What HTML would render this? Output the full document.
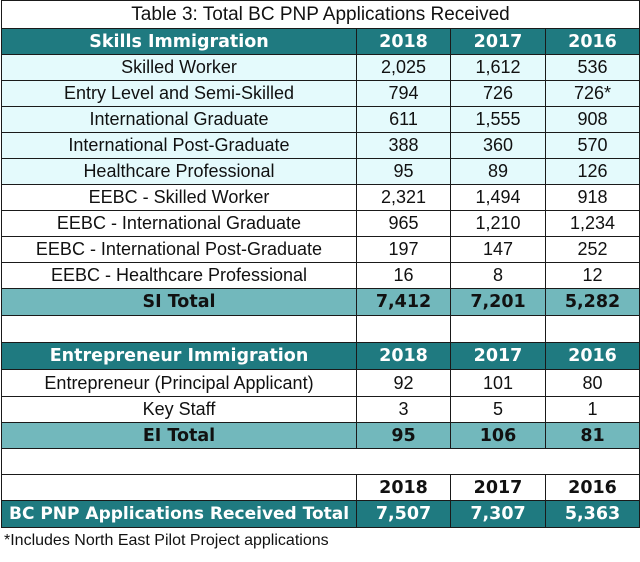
<!DOCTYPE html>
<html><head><meta charset="utf-8"><style>
body{margin:0;width:640px;height:562px;background:#fff;overflow:hidden;position:relative;font-family:"Liberation Sans",sans-serif;color:#111}
.c{position:absolute;box-sizing:border-box;border:1.5px solid #1a1a1a;display:flex;align-items:center;justify-content:center;font-size:18px;white-space:nowrap}
.b{font-family:"DejaVu Sans",sans-serif;font-weight:bold;font-size:17.5px}
.h{background:#1f7a80;color:#fff}
.t{background:#72b8bc;color:#111}
.l{background:#e4fafc}
.w{background:#fff}
#note{position:absolute;left:4px;top:532px;font-size:16px}
</style></head><body>
<div id="root"></div>
<div id="note">*Includes North East Pilot Project applications</div>
<script>
const tops=[0,28,54,80,106,132,158,184,210,236,262,288,315,342,369,396,422,448,474,500,527];
const cols=[1,356,450,545,639];
const rows=[
 ["title","",["Table 3: Total BC PNP Applications Received"]],
 ["skills-header","h b",["Skills Immigration","2018","2017","2016"]],
 ["skilled-worker","l",["Skilled Worker","2,025","1,612","536"]],
 ["entry-level","l",["Entry Level and Semi-Skilled","794","726","726*"]],
 ["international-graduate","l",["International Graduate","611","1,555","908"]],
 ["international-post-graduate","l",["International Post-Graduate","388","360","570"]],
 ["healthcare-professional","l",["Healthcare Professional","95","89","126"]],
 ["eebc-skilled-worker","w",["EEBC - Skilled Worker","2,321","1,494","918"]],
 ["eebc-international-graduate","w",["EEBC - International Graduate","965","1,210","1,234"]],
 ["eebc-international-post-graduate","w",["EEBC - International Post-Graduate","197","147","252"]],
 ["eebc-healthcare-professional","w",["EEBC - Healthcare Professional","16","8","12"]],
 ["si-total","t b",["SI Total","7,412","7,201","5,282"]],
 ["blank-row","w",["","","",""]],
 ["entrepreneur-header","h b",["Entrepreneur Immigration","2018","2017","2016"]],
 ["entrepreneur-principal","w",["Entrepreneur (Principal Applicant)","92","101","80"]],
 ["key-staff","w",["Key Staff","3","5","1"]],
 ["ei-total","t b",["EI Total","95","106","81"]],
 ["blank-row-2","w",[""]],
 ["year-row","w b",["","2018","2017","2016"]],
 ["grand-total","h b",["BC PNP Applications Received Total","7,507","7,307","5,363"]]
];
const root=document.getElementById('root');
rows.forEach((r,i)=>{
 const cells=r[2];
 cells.forEach((txt,j)=>{
  const d=document.createElement('div');
  d.className='c '+r[1];
  const x0=cols[j], x1=cells.length===1?cols[4]:cols[j+1];
  d.style.left=x0+'px';d.style.width=(x1-x0+1)+'px';
  d.style.top=tops[i]+'px';d.style.height=(tops[i+1]-tops[i]+1)+'px';
  if(i===0){d.style.fontSize='19px';}
  if(i===19&&j===0){d.style.justifyContent='flex-start';d.style.paddingLeft='7px';d.style.fontSize='17px';}
  d.textContent=txt;
  
  
  root.appendChild(d);
 });
});
</script>
</body></html>
